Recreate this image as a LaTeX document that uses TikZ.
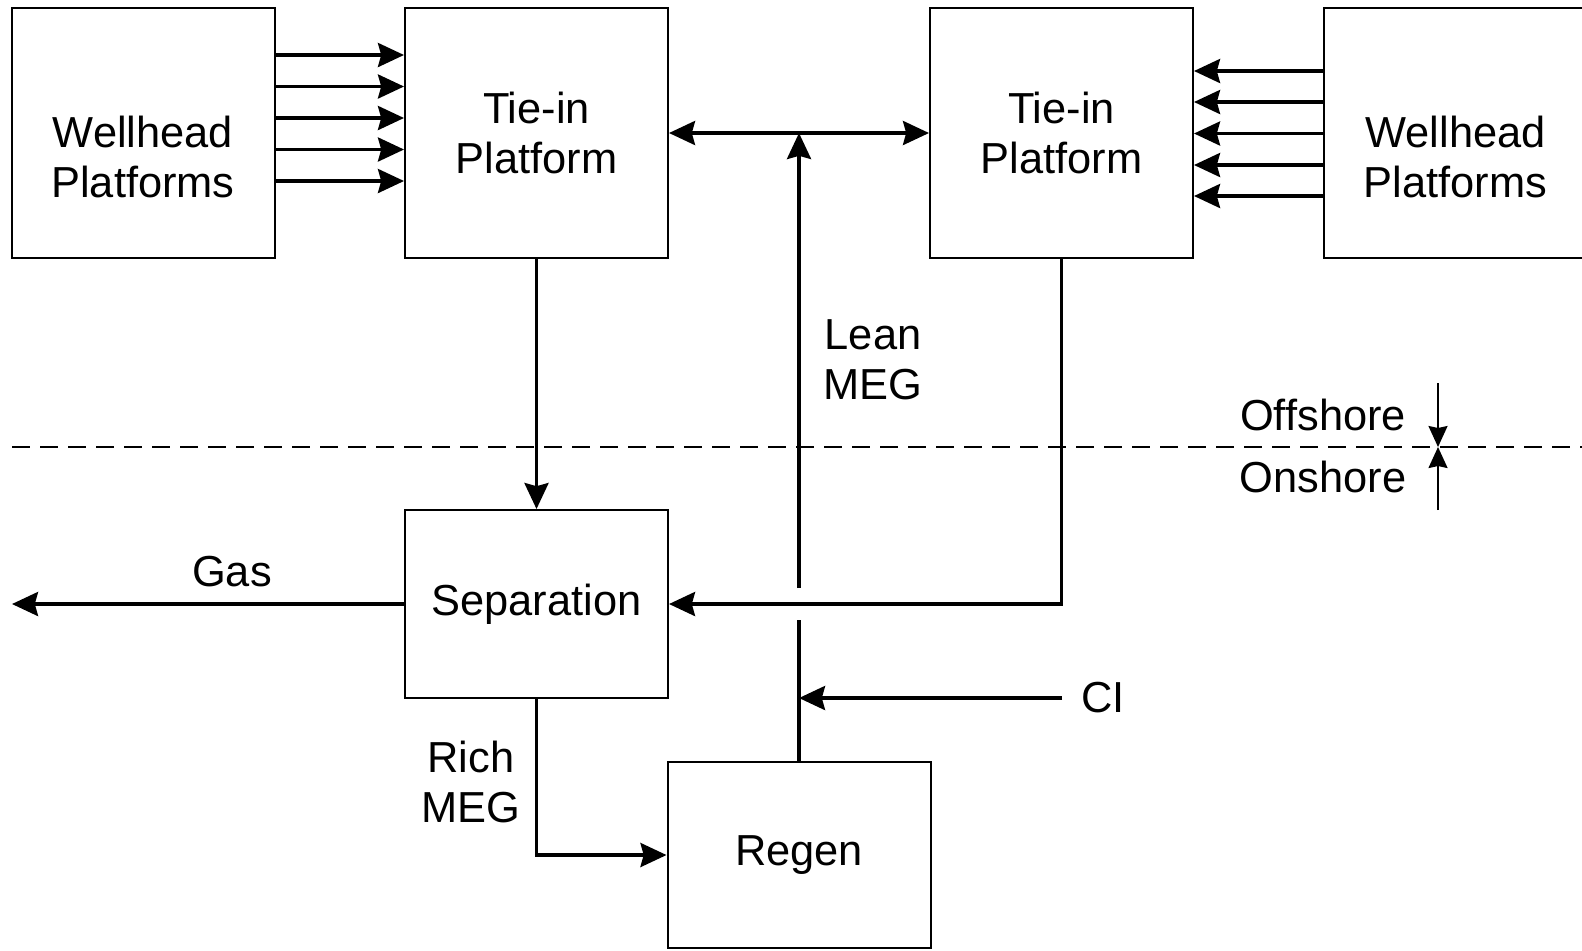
\documentclass[tikz,border=0pt]{standalone}
\usepackage{fontspec}
\setmainfont{Liberation Sans}
\usepackage{tikz}
\usetikzlibrary{arrows.meta, calc}

\tikzset{
  unitbox/.style={
    draw=black,
    line width=1pt,
    minimum width=131.5pt,
    minimum height=125pt,
    align=center,
    font=\fontsize{21.7}{25.2}\selectfont,
    inner sep=0pt
  },
  txt/.style={align=center, font=\fontsize{21.7}{25.2}\selectfont, inner sep=0pt},
  flow/.style={-{Stealth[length=13pt, width=12pt, inset=1.6pt]}, line width=1.75pt},
  twoway/.style={{Stealth[length=13pt, width=12pt, inset=1.6pt]}-{Stealth[length=13pt, width=12pt, inset=1.6pt]}, line width=1.75pt},
  pipe/.style={line width=1.75pt},
  shore/.style={draw=black, line width=1pt, dash pattern=on 9pt off 5pt},
  marker/.style={-{Stealth[length=10.5pt, width=9.5pt, inset=1pt]}, line width=1pt}
}

\begin{document}
\begin{tikzpicture}[x=0.5pt, y=-0.5pt]
  \useasboundingbox (0,0) rectangle (1582,950);
  \clip (0,0) rectangle (1582,950);

  % offshore units
  \node[unitbox] (wellL) at (143,133) {};
  \node[txt] (wellLtxt) at (143,157) {Wellhead\\Platforms};
  \node[unitbox] (tieL) at (536.5,133) {Tie-in\\Platform};
  \node[unitbox] (tieR) at (1061.5,133) {Tie-in\\Platform};
  \node[unitbox] (wellR) at (1455.5,133) {};
  \node[txt] (wellRtxt) at (1455.5,157) {Wellhead\\Platforms};

  % onshore units
  \node[unitbox, minimum height=94pt] (sep) at (536.5,604) {Separation};
  \node[unitbox, minimum height=93pt] (regen) at (799,855) {Regen};

  % flowlines into the tie-ins
  \foreach \y in {55,86.5,118,149.5,181}
    \draw[flow] (wellL.east |- 0,\y) -- (tieL.west |- 0,\y);
  \foreach \y in {71,102,133.5,165,196}
    \draw[flow] (wellR.west |- 0,\y) -- (tieR.east |- 0,\y);
  \draw[twoway] (tieL.east) -- (tieR.west);

  % production lines to shore
  \draw[flow] (tieL.south) -- (sep.north);
  \draw[flow] (tieR.south) |- (sep.east);

  \coordinate (gasOut) at (12,604);
  \draw[flow] (sep.west) -- (gasOut);
  \node[txt] (gas) at (232,572) {Gas};

  % MEG loop
  \draw[flow] (sep.south) |- (regen.west);
  \node[txt] (rich) at (471,782) {Rich\\MEG};

  \coordinate (gapLo) at (799,620);
  \coordinate (gapHi) at (799,588);
  \draw[pipe] (regen.north) -- (gapLo);
  \draw[flow] (gapHi) -- (regen.north |- tieL.east);
  \node[txt] (lean) at (873,360) {Lean\\MEG};

  \node[txt, anchor=west, inner xsep=9.5pt] (ci) at (1062,698) {CI};
  \draw[flow] (ci.west) -- (regen.north |- ci.west);

  % shore line
  \coordinate (shoreW) at (12,447);
  \coordinate (shoreE) at (1582,447);
  \draw[shore] (shoreW) -- (shoreE);
  \coordinate (mark) at (1438,447);
  \coordinate (markTop) at (1438,383);
  \coordinate (markBot) at (1438,510);
  \draw[marker] (markTop) -- (mark);
  \draw[marker] (markBot) -- (mark);
  \node[txt] (off) at (1323,415) {Offshore};
  \node[txt] (on) at (1323,477) {Onshore};
\end{tikzpicture}
\end{document}
